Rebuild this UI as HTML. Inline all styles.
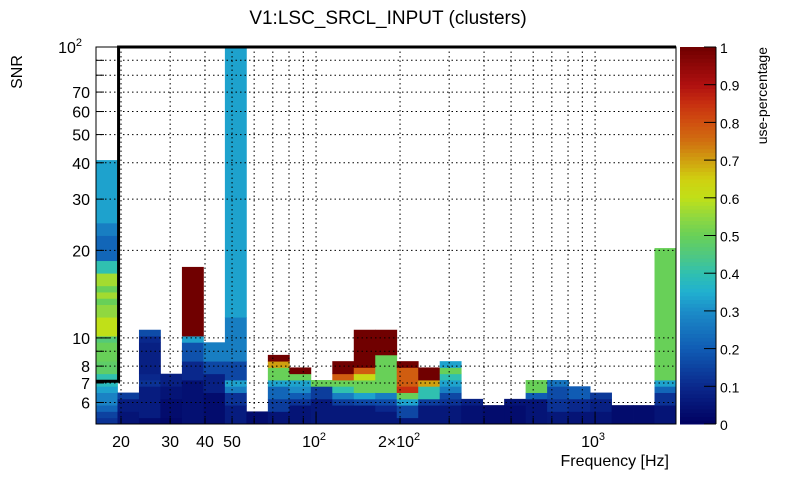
<!DOCTYPE html>
<html><head><meta charset="utf-8"><style>
body{margin:0;background:#fff;}
svg text{font-family:"Liberation Sans",sans-serif;}
</style></head><body>
<svg id="chart" width="805" height="472" xmlns="http://www.w3.org/2000/svg">
<rect width="805" height="472" fill="#fff"/>
<text x="388" y="24" font-size="19" text-anchor="middle">V1:LSC_SRCL_INPUT (clusters)</text>
<g id="cells"></g>
<g id="grid"></g>
<g id="axes"></g>
<g id="cbar"></g>
</svg>
<script>
// ---- data ----
const freqMin = 16.27, freqMax = 1950, nFreqBins = 27;
const snrMin = 5.06, snrMax = 100, nSnrBins = 60;
// per frequency column: runs of [number of SNR bins, use-percentage], bottom-up
const col00 = [[1,0.12],[1,0.15],[1,0.22],[2,0.28],[1,0.33],[1,0.38],[1,0.40],[2,0.48],[2,0.50],[1,0.5],[1,0.46],[3,0.6],[2,0.55],[1,0.5],[1,0.57],[1,0.5],[2,0.57],[2,0.4],[4,0.22],[2,0.27],[10,0.33]];
const col01 = [[2,0.05],[2,0.07],[1,0.14]];
const col02 = [[1,0.03],[5,0.07],[1,0.12],[1,0.1],[5,0.08],[1,0.1],[1,0.17]];
const col03 = [[1,0.02],[3,0.03],[2,0.05],[2,0.08]];
const col04 = [[7,0.04],[3,0.1],[3,0.18],[1,0.33],[11,1.0]];
const col05 = [[5,0.03],[3,0.08],[2,0.16],[3,0.27]];
const col06 = [[3,0.07],[2,0.12],[1,0.27],[1,0.33],[3,0.16],[7,0.27],[43,0.33]];
const col07 = [[2,0.03]];
const col08 = [[2,0.05],[2,0.14],[2,0.22],[1,0.33],[2,0.5],[1,0.7],[1,1.0]];
const col09 = [[3,0.05],[1,0.12],[1,0.2],[1,0.3],[1,0.33],[1,0.5],[1,1.0]];
const col10 = [[4,0.06],[2,0.14],[1,0.5]];
const col11 = [[3,0.06],[1,0.14],[1,0.27],[1,0.4],[1,0.5],[1,0.78],[2,1.0]];
const col12 = [[3,0.06],[1,0.16],[1,0.33],[2,0.5],[1,0.62],[1,0.78],[6,1.0]];
const col13 = [[2,0.06],[1,0.1],[1,0.17],[1,0.27],[6,0.5],[4,1.0]];
const col14 = [[1,0.06],[2,0.16],[1,0.33],[1,0.5],[1,0.85],[3,0.78],[1,1.0]];
const col15 = [[3,0.06],[1,0.14],[2,0.4],[1,0.7],[2,1.0]];
const col16 = [[3,0.06],[1,0.12],[1,0.16],[1,0.27],[1,0.33],[1,0.4],[1,0.5],[1,0.33]];
const col17 = [[3,0.04],[1,0.08]];
const col18 = [[3,0.03]];
const col19 = [[3,0.03],[1,0.05]];
const col20 = [[4,0.05],[1,0.2],[2,0.5]];
const col21 = [[2,0.06],[2,0.12],[2,0.17],[1,0.25]];
const col22 = [[2,0.05],[2,0.1],[2,0.2]];
const col23 = [[2,0.05],[2,0.08],[1,0.13]];
const col24 = [[3,0.03]];
const col25 = [[3,0.03]];
const col26 = [[3,0.05],[2,0.12],[1,0.22],[1,0.33],[21,0.5]];
const columns = [col00,col01,col02,col03,col04,col05,col06,col07,col08,col09,col10,col11,col12,col13,col14,col15,col16,col17,col18,col19,col20,col21,col22,col23,col24,col25,col26];
const yMajor = [10, 100];
const yMinorLabels = [6,7,8,10,20,30,40,50,60,70];
const yGridVals = [6,7,8,9,10,20,30,40,50,60,70,80,90,100];
const xGridVals = [20,30,40,50,60,70,80,90,100,200,300,400,500,600,700,800,900,1000];
const xLabels = [[20,"20"],[30,"30"],[40,"40"],[50,"50"]];
const cbarTicks = [0,0.1,0.2,0.3,0.4,0.5,0.6,0.7,0.8,0.9,1];
// threshold line (freq, snr) points
const threshFreq = [16.27, 19.6, 19.6, 1950];
const threshSnr = [7.1, 7.1, 100, 100];

// ---- layout ----
const L=96,R=676,T=47,B=424;
const NS='http://www.w3.org/2000/svg';
const lx0=Math.log10(freqMin), lx1=Math.log10(freqMax), ly0=Math.log10(snrMin), ly1=Math.log10(snrMax);
const X=f=>L+(Math.log10(f)-lx0)/(lx1-lx0)*(R-L);
const Y=s=>B-(Math.log10(s)-ly0)/(ly1-ly0)*(B-T);
const binY=i=>B-i/nSnrBins*(B-T);
const colX=i=>X(Math.pow(10,lx0+i/nFreqBins*(lx1-lx0)));
const stops=[[0,[0,0,96]],[0.1,[10,40,140]],[0.2,[16,92,180]],[0.3,[28,140,200]],[0.35,[32,176,208]],[0.4,[48,192,176]],[0.45,[80,200,128]],[0.5,[104,208,88]],[0.55,[144,216,64]],[0.6,[192,224,24]],[0.65,[208,208,16]],[0.7,[208,160,16]],[0.75,[208,112,16]],[0.8,[208,80,16]],[0.85,[200,48,16]],[0.9,[176,16,16]],[1,[112,0,0]]];
function col(v){v=Math.max(0,Math.min(1,v));for(let i=1;i<stops.length;i++){if(v<=stops[i][0]){const a=stops[i-1],b=stops[i],t=(v-a[0])/(b[0]-a[0]);const c=a[1].map((x,k)=>Math.round(x+(b[1][k]-x)*t));return `rgb(${c})`;}}return 'rgb(112,0,0)';}
function mk(tag,attrs,parent){const e=document.createElementNS(NS,tag);for(const k in attrs)e.setAttribute(k,attrs[k]);parent.appendChild(e);return e;}
const gC=document.getElementById('cells'),gG=document.getElementById('grid'),gA=document.getElementById('axes'),gB=document.getElementById('cbar');
columns.forEach((runs,i)=>{let b=0;const x0=colX(i),x1=colX(i+1);runs.forEach(([n,v])=>{const r=mk('rect',{x:x0,y:binY(b+n),width:x1-x0+0.4,height:binY(b)-binY(b+n)+0.4,fill:col(v)},gC);


b+=n;});});
yGridVals.forEach(s=>{const y=Y(s);const l=mk('line',{x1:L,x2:R,y1:y,y2:y,stroke:'#000','stroke-dasharray':'1.5 3','stroke-width':1},gG);


const t=mk('line',{x1:L,x2:L+(yMajor.includes(s)?14:8),y1:y,y2:y,stroke:'#000'},gA);

});
xGridVals.forEach(f=>{const x=X(f);const l=mk('line',{x1:x,x2:x,y1:T,y2:B,stroke:'#000','stroke-dasharray':'1.5 3','stroke-width':1},gG);


const t=mk('line',{x1:x,x2:x,y1:B,y2:B-([100,1000].includes(f)?11:6),stroke:'#000'},gA);

});
mk('rect',{x:L,y:T,width:R-L,height:B-T,fill:'none',stroke:'#000','stroke-width':1},gA);
let pts=threshFreq.map((f,i)=>`${X(f)},${Y(threshSnr[i])}`).join(' ');
const pl=mk('polyline',{points:pts,fill:'none',stroke:'#000','stroke-width':3},gA);


function txt(s,a,p){const e=mk('text',a,p);e.textContent=s;return e;}
yMinorLabels.forEach(s=>{const t=txt(String(s),{x:L-6,y:Y(s)+6,'font-size':16,'text-anchor':'end'},gA);

});
{const t=mk('text',{x:L-14,y:Y(100)+6,'font-size':16,'text-anchor':'end'},gA);t.innerHTML='10<tspan dy="-7" font-size="11">2</tspan>';

}
xLabels.forEach(([f,s])=>{const t=txt(s,{x:X(f),y:447,'font-size':16,'text-anchor':'middle'},gA);

});
[[100,'10','2'],[1000,'10','3']].forEach(([f,b,e])=>{const t=mk('text',{x:X(f)-2,y:447,'font-size':16,'text-anchor':'middle'},gA);t.innerHTML=b+'<tspan dy="-7" font-size="11">'+e+'</tspan>';

});
const t2=mk('text',{x:X(200)-1,y:447,'font-size':16,'text-anchor':'middle'},gA);t2.innerHTML='2×10<tspan dy="-7" font-size="11">2</tspan>';


const xt=txt('Frequency [Hz]',{x:669,y:466,'font-size':16,'text-anchor':'end'},gA);


const yt=txt('SNR',{x:0,y:0,'font-size':16,'text-anchor':'middle',transform:'translate(22,72) rotate(-90)'},gA);


// color bar
const CL=680,CR=716;
for(let k=0;k<100;k++){const v=(k+0.5)/100;const r=mk('rect',{x:CL,y:B-(k+1)/100*(B-T),width:CR-CL,height:(B-T)/100+0.5,fill:col(v)},gB);

}
mk('line',{x1:CR,x2:CR,y1:T,y2:B,stroke:'#000'},gB);
cbarTicks.forEach(v=>{const y=B-v*(B-T);mk('line',{x1:CR-12,x2:CR,y1:y,y2:y,stroke:'#000'},gB);
const t=txt(String(v),{x:CR+4,y:y+6,'font-size':14},gB);

});
const ct=txt('use-percentage',{x:0,y:0,'font-size':14,'text-anchor':'end',transform:'translate(767,47) rotate(-90)'},gB);


</script>
</body></html>
